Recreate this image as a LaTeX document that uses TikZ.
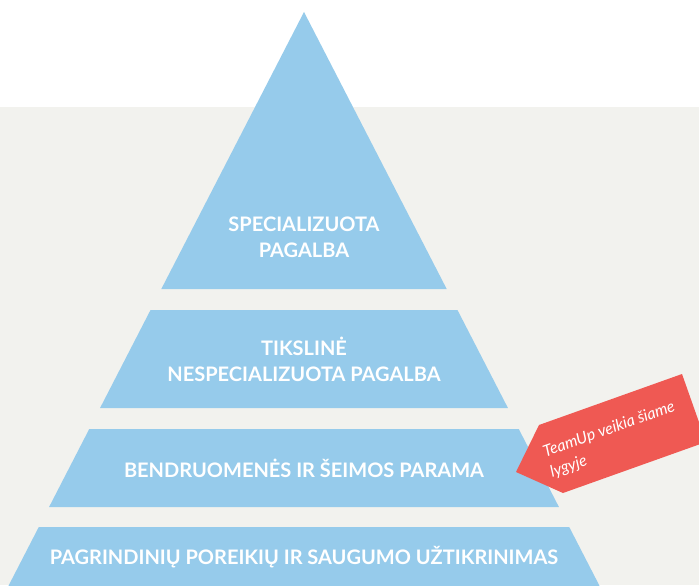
\documentclass[tikz,border=0pt]{standalone}
\usepackage{fontspec}
\setmainfont{Lato}
\usetikzlibrary{positioning}
\definecolor{tierblue}{HTML}{96CBEB}
\definecolor{tagred}{HTML}{EF5953}
\definecolor{paper}{HTML}{F2F2EE}

\begin{document}
\begin{tikzpicture}[x=0.75pt, y=-0.75pt,
  tier/.style={fill=tierblue},
  tierlbl/.style={font=\fontsize{15}{19.5}\selectfont\bfseries, text=white, align=center},
  tag/.style={fill=tagred},
  taglbl/.style={font=\fontsize{12}{16}\selectfont\itshape, text=white, align=left,
                 rotate=19.6, inner sep=0pt},
]
\useasboundingbox (0,0) rectangle (699,585);
\clip (0,0) rectangle (699,585);

% === Background ===
\fill[white] (0,0) rectangle (699,107);
\fill[paper] (0,107) rectangle (699,585);

% === Pyramid tiers ===
\fill[tier] (304,12) -- (446.7,289) -- (161.3,289) -- cycle;
\foreach \ytop/\ybot in {310/408, 429/507, 527/600}
  \fill[tier] ({304-0.515*(\ytop-12)},\ytop) -- ({304+0.515*(\ytop-12)},\ytop)
    -- ({304+0.515*(\ybot-12)},\ybot) -- ({304-0.515*(\ybot-12)},\ybot) -- cycle;

% === Tier labels ===
\node[tierlbl] (spec) at (304,237) {SPECIALIZUOTA\\PAGALBA};
\node[tierlbl] (target) at (304,359) {TIKSLINĖ\\NESPECIALIZUOTA PAGALBA};
\node[tierlbl] (community) at (304,468) {BENDRUOMENĖS IR ŠEIMOS PARAMA};
\node[tierlbl] (basic) at (304,557) {PAGRINDINIŲ POREIKIŲ IR SAUGUMO UŽTIKRINIMAS};

% === TeamUp tag ===
\fill[tag] (516,472) -- (539,425) -- (682,374) -- (706,442) -- (563,493) -- cycle;
\node[taglbl, anchor=north west] (teamup) at (541,446) {TeamUp veikia šiame\\lygyje};

\end{tikzpicture}
\end{document}
